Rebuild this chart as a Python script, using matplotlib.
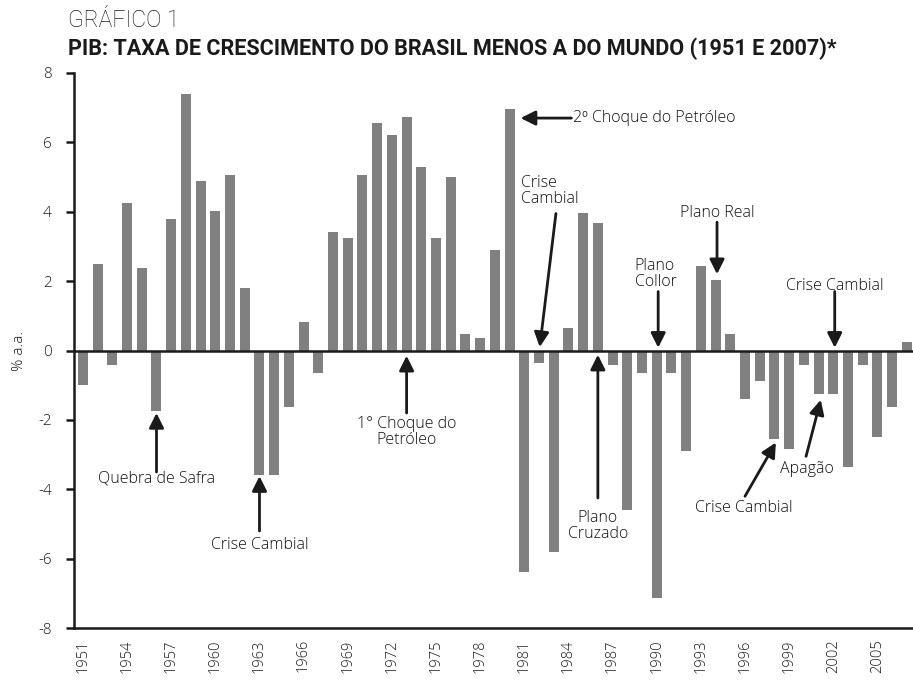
import matplotlib
matplotlib.use("Agg")
import matplotlib.pyplot as plt

# dados (% a.a., Brasil menos mundo)
anos = list(range(1951, 2008))
valores = [
    -1.0, 2.5, -0.43, 4.25, 2.38, -1.75, 3.79, 7.39, 4.88, 4.02,
    5.06, 1.80, -3.6, -3.58, -1.64, 0.83, -0.66, 3.42, 3.24, 5.06,
    6.55, 6.21, 6.72, 5.29, 3.24, 5.0, 0.48, 0.37, 2.9, 6.96,
    -6.39, -0.37, -5.81, 0.65, 3.96, 3.67, -0.43, -4.6, -0.66, -7.14,
    -0.66, -2.9, 2.44, 2.03, 0.48, -1.41, -0.89, -2.56, -2.85, -0.43,
    -1.24, -1.24, -3.37, -0.43, -2.5, -1.64, 0.25,
]
ticks_x = list(range(1951, 2008, 3))
ticks_y = list(range(-8, 9, 2))

# anotações: texto, posição do texto, alinhamento, ponta da seta, cauda da seta
notas = [
    ("2º Choque do Petróleo", (1984.3, 6.7), "left", (1980.75, 6.7), (1984.2, 6.7)),
    ("Crise\nCambial", (1980.75, 4.6), "left", (1982.05, 0.1), (1983.15, 3.95)),
    ("Plano Real", (1994.1, 3.95), "center", (1994.1, 2.2), (1994.1, 3.7)),
    ("Plano\nCollor", (1988.5, 2.2), "left", (1990.1, 0.08), (1990.1, 1.7)),
    ("Crise Cambial", (2002.1, 1.85), "center", (2002.1, 0.08), (2002.1, 1.7)),
    ("1° Choque do\nPetróleo", (1973.0, -2.35), "center", (1973.0, -0.15), (1973.0, -1.8)),
    ("Quebra de Safra", (1956.0, -3.7), "center", (1956.0, -1.8), (1956.0, -3.5)),
    ("Crise Cambial", (1963.0, -5.6), "center", (1963.0, -3.62), (1963.0, -5.2)),
    ("Plano\nCruzado", (1986.0, -5.05), "center", (1986.0, -0.12), (1986.0, -4.25)),
    ("Crise Cambial", (1995.9, -4.55), "center", (1998.1, -2.65), (1996.0, -4.2)),
    ("Apagão", (2000.2, -3.4), "center", (2001.15, -1.42), (2000.15, -3.05)),
]

plt.rcParams['font.family'] = ['Open Sans', 'DejaVu Sans']

fig = plt.figure(figsize=(9.13, 6.82), dpi=100)
ax = fig.add_axes([0.081, 0.079, 0.919, 0.814])

ax.bar(anos, valores, width=0.68, color="#808080", zorder=2)
ax.axhline(0, color="#1a1a1a", lw=1.8, zorder=3)

ax.set_xlim(1950.39, 2007.42)
ax.set_ylim(-8, 8)
ax.set_xticks(ticks_x)
ax.set_xticklabels([str(a) for a in ticks_x], rotation=90, fontsize=10.5,
                   color="#1a1a1a", fontweight="light")
ax.set_yticks(ticks_y)
ax.set_yticklabels([str(v) for v in ticks_y], fontsize=11, color="#1a1a1a",
                   fontweight="light")
ax.tick_params(axis="x", length=0, pad=8)
ax.tick_params(axis="y", length=6, width=1.8, color="#1a1a1a", pad=10)

for s in ["top", "right"]:
    ax.spines[s].set_visible(False)
ax.spines["left"].set_linewidth(1.8)
ax.spines["left"].set_color("#1a1a1a")
ax.spines["bottom"].set_linewidth(1.8)
ax.spines["bottom"].set_color("#1a1a1a")

ax.set_ylabel("% a.a.", fontsize=11, color="#1a1a1a", labelpad=8, fontweight="light")

for texto, pos, ha, ponta, cauda in notas:
    ax.text(pos[0], pos[1], texto, ha=ha, va="center", fontsize=11.5,
            color="#111111", linespacing=1.0, zorder=5, fontweight="light")
    ax.annotate("", xy=ponta, xytext=cauda,
                arrowprops=dict(arrowstyle="-|>", color="#1a1a1a", lw=2,
                                mutation_scale=22, shrinkA=0, shrinkB=0),
                zorder=5)

fig.text(0.0745, 0.96, "GRÁFICO 1", fontsize=16.5, color="#1a1a1a",
         family=["Roboto", "DejaVu Sans"], fontweight="light")
fig.text(0.0745, 0.919, "PIB: TAXA DE CRESCIMENTO DO BRASIL MENOS A DO MUNDO (1951 E 2007)*",
         fontsize=15.6, fontweight="bold", color="#1a1a1a",
         family=["Roboto", "DejaVu Sans"])

fig.savefig("out.png", dpi=100)
